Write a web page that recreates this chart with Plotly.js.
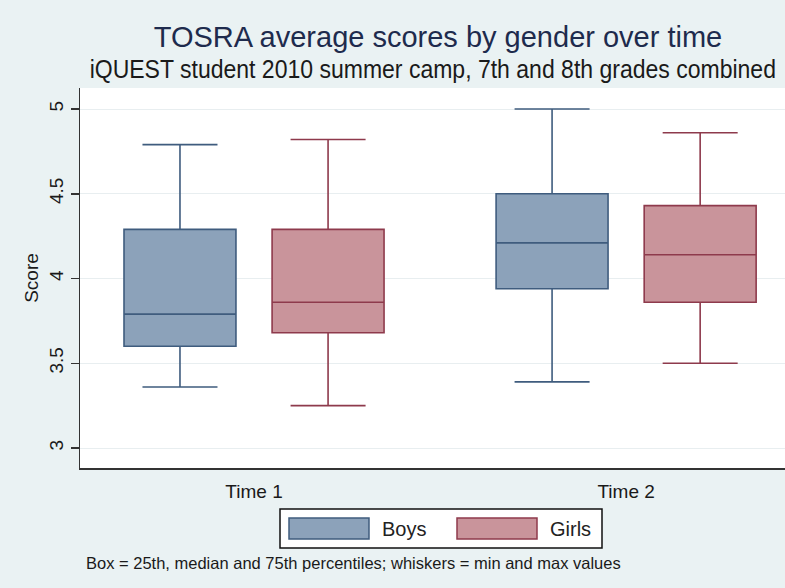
<!DOCTYPE html>
<html><head><meta charset="utf-8">
<script src="https://cdn.plot.ly/plotly-3.0.1.min.js"></script>
<style>html,body{margin:0;padding:0;background:#eaf2f3;}</style>
</head><body>
<div id="chart" style="width:785px;height:588px;"></div>
<script>
// ---- data ----
const categories = ['Time 1', 'Time 2'];
const seriesNames = ['Boys', 'Girls'];
const boysMin    = [3.36, 3.39];
const boysQ1     = [3.60, 3.94];
const boysMedian = [3.79, 4.21];
const boysQ3     = [4.29, 4.50];
const boysMax    = [4.79, 5.00];
const girlsMin    = [3.25, 3.50];
const girlsQ1     = [3.68, 3.86];
const girlsMedian = [3.86, 4.14];
const girlsQ3     = [4.29, 4.43];
const girlsMax    = [4.82, 4.86];
const yTickVals   = [3, 3.5, 4, 4.5, 5];
const yTickLabels = ['3', '3.5', '4', '4.5', '5'];
const titleText = 'TOSRA average scores by gender over time';
const subtitleText = 'iQUEST student 2010 summer camp, 7th and 8th grades combined';
const noteText = 'Box = 25th, median and 75th percentiles; whiskers = min and max values';
const yTitle = 'Score';

// ---- styles ----
const fills = ['#8ca2ba', '#c9949b'];
const lines = ['#3f5c7e', '#8e3a4c'];
const FONT = '"Liberation Sans", Arial, sans-serif';

// plot area in pixels
const W = 785, H = 588, PL = 80, PR = 785, PT = 88, PB = 468;
const px2x = p => (p - PL) / (PR - PL);
const py2y = p => (PB - p) / (PB - PT);

const stats = [
  {min: boysMin, q1: boysQ1, med: boysMedian, q3: boysQ3, max: boysMax},
  {min: girlsMin, q1: girlsQ1, med: girlsMedian, q3: girlsQ3, max: girlsMax}
];

const traces = seriesNames.map((name, i) => ({
  type: 'box',
  name: name,
  x: categories,
  q1: stats[i].q1,
  median: stats[i].med,
  q3: stats[i].q3,
  lowerfence: stats[i].min,
  upperfence: stats[i].max,
  boxpoints: false,
  fillcolor: fills[i],
  line: {color: lines[i], width: 1.6},
  whiskerwidth: 0.67,
  hoverinfo: 'skip',
  showlegend: false
}));

// custom legend (Stata style wide swatches)
const legendBox = {x0: 280, x1: 602, y0: 509, y1: 548};
const swatchX = [289, 457], swatchW = 80, swatchY0 = 518, swatchY1 = 539, textGap = 11;

const shapes = [{
  type: 'rect', xref: 'paper', yref: 'paper',
  x0: px2x(legendBox.x0), x1: px2x(legendBox.x1),
  y0: py2y(legendBox.y1), y1: py2y(legendBox.y0),
  line: {color: '#111', width: 1.5}, fillcolor: '#ffffff', layer: 'above'
}];
const annotations = [];
seriesNames.forEach((name, i) => {
  shapes.push({
    type: 'rect', xref: 'paper', yref: 'paper',
    x0: px2x(swatchX[i]), x1: px2x(swatchX[i] + swatchW),
    y0: py2y(swatchY1), y1: py2y(swatchY0),
    line: {color: lines[i], width: 1.5}, fillcolor: fills[i], layer: 'above'
  });
  annotations.push({
    xref: 'paper', yref: 'paper', x: px2x(swatchX[i] + swatchW + textGap), y: py2y((swatchY0 + swatchY1) / 2),
    xanchor: 'left', yanchor: 'middle', showarrow: false, text: name,
    font: {family: FONT, size: 20, color: '#222'}
  });
});
const subtitleIndex = annotations.length;
annotations.push({
  xref: 'paper', yref: 'paper', x: 0.5, y: py2y(69.5), xanchor: 'center', yanchor: 'middle',
  showarrow: false, text: subtitleText, font: {family: FONT, size: 26, color: '#1a1a1a'}
});
annotations.push({
  xref: 'paper', yref: 'paper', x: px2x(84), y: py2y(563), xanchor: 'left', yanchor: 'middle',
  showarrow: false, text: noteText, font: {family: FONT, size: 16.5, color: '#1a1a1a'}
});

const layout = {
  width: W, height: H,
  paper_bgcolor: '#eaf2f3', plot_bgcolor: '#ffffff',
  margin: {l: PL, r: W - PR, t: PT, b: H - PB, pad: 0},
  title: {
    text: titleText, xref: 'paper', x: px2x(438), xanchor: 'center', yref: 'container', y: 1 - 37 / H, yanchor: 'middle',
    font: {family: FONT, size: 29, color: '#1e2b4d'}
  },
  boxmode: 'group', boxgap: 0.204, boxgroupgap: 0.244,
  showlegend: false,
  xaxis: {
    type: 'category', range: [-0.4677, 1.427], fixedrange: true,
    showline: true, linecolor: '#333', linewidth: 1.5, mirror: false,
    ticks: '', showgrid: false, zeroline: false,
    tickfont: {family: FONT, size: 19, color: '#1a1a1a'}, ticklabelstandoff: 6
  },
  yaxis: {
    range: [2.882, 5.124], fixedrange: true,
    tickvals: yTickVals, ticktext: yTickLabels, tickangle: -90,
    showline: true, linecolor: '#333', linewidth: 1.5,
    ticks: 'outside', ticklen: 8, tickwidth: 1.5, tickcolor: '#333',
    showgrid: true, gridcolor: '#e8eef0', gridwidth: 1, zeroline: false,
    tickfont: {family: FONT, size: 19, color: '#1a1a1a'}, ticklabelstandoff: 0,
    title: {text: yTitle, font: {family: FONT, size: 19, color: '#1a1a1a'}, standoff: 2}
  },
  shapes: shapes,
  annotations: annotations
};

Plotly.newPlot('chart', traces, layout, {displayModeBar: false, staticPlot: true}).then(gd => {
  // the subtitle is set in a condensed face in the original: compress it horizontally
  const ann = gd.querySelectorAll('.annotation')[subtitleIndex];
  if (ann) {
    const t = ann.querySelector('text');
    if (t) {
      t.style.transformBox = 'fill-box';
      t.style.transformOrigin = 'center';
      t.style.transform = 'scaleX(0.885)';
    }
  }
});
</script>
</body></html>
